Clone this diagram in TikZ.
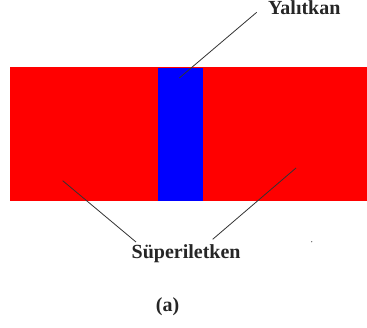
\documentclass[tikz,border=0pt]{standalone}
\usepackage{fontspec}
\setmainfont{Liberation Serif}
\begin{document}
\begin{tikzpicture}[x=1pt,y=-1pt,
  lbl/.style={font=\fontsize{20}{22}\selectfont\bfseries, inner sep=0pt, text=black!85},
  lead/.style={draw=black!80, line width=0.8pt}]
\useasboundingbox (0,0) rectangle (367,328);
% bars
\fill[red] (9.5,67.5) rectangle (367,201.5);
\fill[blue] (157.5,68.5) rectangle (202.7,200.8);
% labels
\node[lbl, anchor=base west] (yal) at (268,14.5) {Yalıtkan};
\node[lbl, anchor=base west] (sup) at (131.5,259) {Süperiletken};
\node[lbl, anchor=base] (cap) at (167.5,312) {(a)};
% leader ends
\coordinate (y1) at (256.7,12.3);
\coordinate (y2) at (179.3,78);
\coordinate (l1) at (62.7,180.7);
\coordinate (l2) at (136,242);
\coordinate (r1) at (296,168);
\coordinate (r2) at (212.7,239.3);
\draw[lead] (y1) -- (y2);
\draw[lead] (l1) -- (l2);
\draw[lead] (r1) -- (r2);
\fill[black!70] (311.7,241.7) circle (0.6);
\end{tikzpicture}
\end{document}
